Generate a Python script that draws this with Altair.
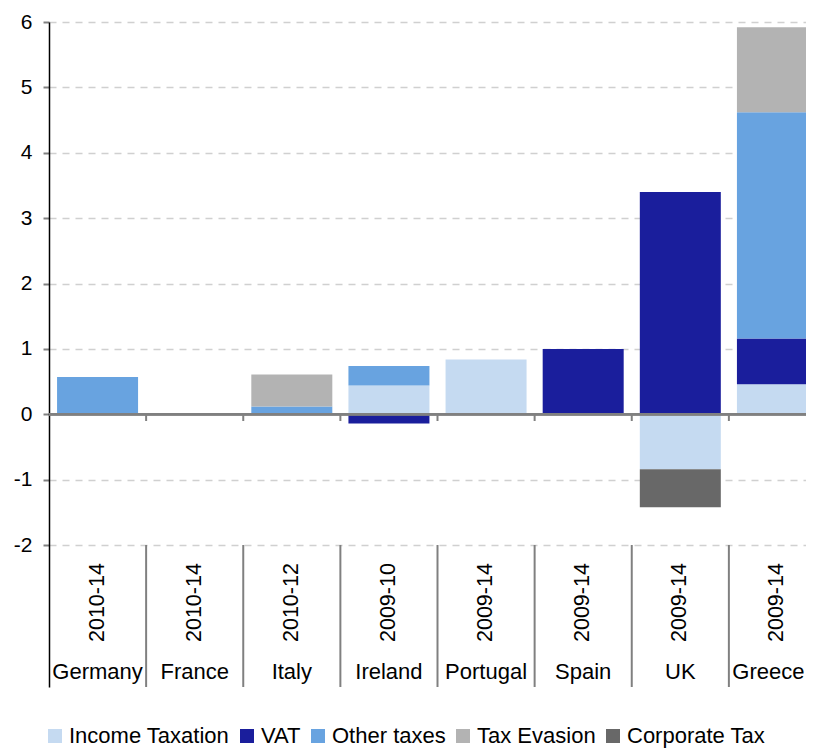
import altair as alt
import pandas as pd

countries = ["Germany", "France", "Italy", "Ireland", "Portugal", "Spain", "UK", "Greece"]
periods = ["2010-14", "2010-14", "2010-12", "2009-10", "2009-14", "2009-14", "2009-14", "2009-14"]
series = ["Income Taxation", "VAT", "Other taxes", "Tax Evasion", "Corporate Tax"]
colors = ["#C5DAF1", "#1A1E9C", "#68A3E0", "#B3B3B3", "#686868"]

income = [0, 0, 0, 0.44, 0.84, 0, -0.84, 0.46]
vat = [0, 0, 0, -0.14, 0, 1.00, 3.40, 0.70]
other = [0.57, 0, 0.12, 0.30, 0, 0, 0, 3.46]
evasion = [0, 0, 0.49, 0, 0, 0, 0, 1.30]
corporate = [0, 0, 0, 0, 0, 0, -0.58, 0]

rows = []
for si, (name, vals) in enumerate(zip(series, [income, vat, other, evasion, corporate])):
    for c, v in zip(countries, vals):
        if v != 0:
            rows.append({"country": c, "series": name, "value": v, "order": si})
df = pd.DataFrame(rows)
lab = pd.DataFrame({"country": countries, "period": periods})
lab_main = lab.iloc[:-1]
lab_last = lab.iloc[-1:]
sep = pd.DataFrame({"country": countries[1:]})

FONT = "Liberation Sans"
xscale = alt.Scale(domain=countries, range=[0, 777], paddingInner=0, paddingOuter=0)
yscale = alt.Scale(domain=[-4.17, 6], nice=False, zero=False)

bars = alt.Chart(df).mark_bar(clip=True, width=alt.RelativeBandSize(0.834)).encode(
    x=alt.X("country:N", scale=xscale, axis=None, sort=countries),
    y=alt.Y("value:Q", scale=yscale, stack="zero",
            axis=alt.Axis(values=[-2, -1, 0, 1, 2, 3, 4, 5, 6], grid=True, gridDash=[7, 6],
                          gridColor="#D0D0D0", gridWidth=1.5, domainColor="black", domainWidth=1.5,
                          tickColor="#808080", tickSize=6, tickWidth=2, labelFontSize=21,
                          labelFont=FONT, labelColor="black", labelPadding=11, title=None,
                          labelExpr="'' + datum.value")),
    color=alt.Color("series:N", scale=alt.Scale(domain=series, range=colors),
                    legend=alt.Legend(orient="none", legendX=-5, legendY=703, direction="horizontal",
                                      title=None, symbolType="square", symbolSize=196,
                                      symbolStrokeWidth=0, labelFontSize=22,
                                      labelFont=FONT, labelColor="black", columnPadding=6,
                                      labelOffset=3, labelLimit=400, padding=0)),
    order=alt.Order("order:Q"),
)

zero = alt.Chart(lab).mark_rule(color="#808080", strokeWidth=2).encode(y=alt.datum(0))

ticks = alt.Chart(sep).mark_rule(color="#808080", strokeWidth=2).encode(
    x=alt.X("country:N", scale=xscale, bandPosition=0, sort=countries),
    y=alt.value(392), y2=alt.value(399))

seps = alt.Chart(sep).mark_rule(color="#808080", strokeWidth=2).encode(
    x=alt.X("country:N", scale=xscale, bandPosition=0, sort=countries),
    y=alt.value(523), y2=alt.value(665))

ptxt = alt.Chart(lab).mark_text(angle=270, align="left", baseline="middle", fontSize=21.5,
                                font=FONT, color="black").encode(
    x=alt.X("country:N", scale=xscale, sort=countries), y=alt.value(620), text="period:N")

ctxt = alt.Chart(lab_main).mark_text(baseline="middle", fontSize=22, font=FONT, color="black").encode(
    x=alt.X("country:N", scale=xscale, sort=countries), y=alt.value(650), text="country:N")

ctxt_last = alt.Chart(lab_last).mark_text(baseline="middle", fontSize=22, font=FONT, color="black",
                                          dx=-9).encode(
    x=alt.X("country:N", scale=xscale, sort=countries), y=alt.value(650), text="country:N")

chart = alt.layer(bars, zero, ticks, seps, ptxt, ctxt, ctxt_last).properties(
    width=757, height=665,
    autosize=alt.AutoSizeParams(type="none"),
    padding={"left": 41, "top": 14, "right": 0, "bottom": 62},
).configure_view(stroke=None)

chart.save("out.html", embed_options={"renderer": "svg", "actions": False})
